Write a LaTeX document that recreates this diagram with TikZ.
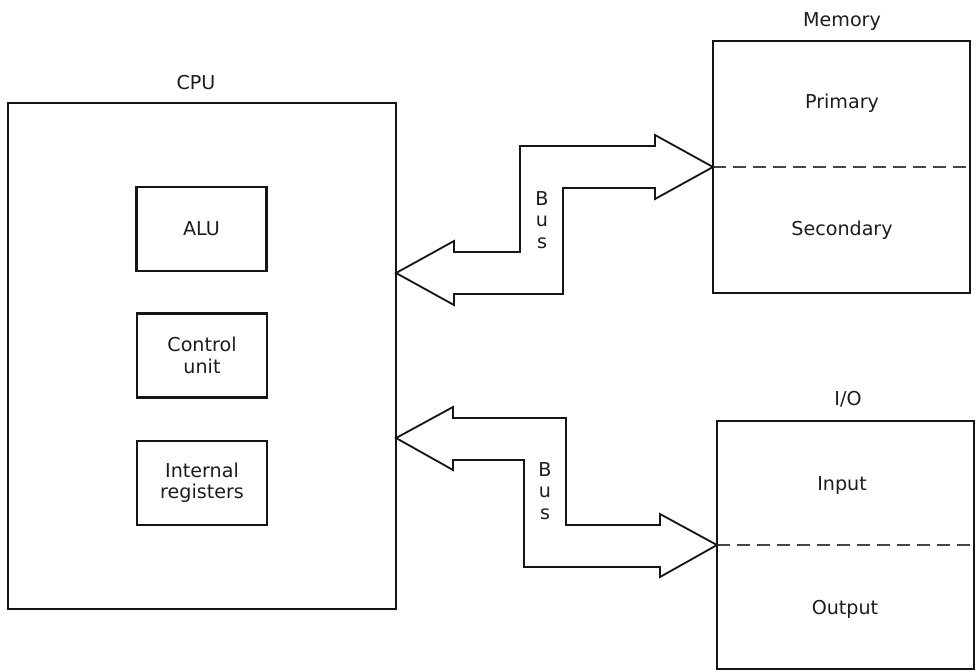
\documentclass[tikz,border=0pt]{standalone}
\usepackage{fontspec}
\setmainfont{DejaVu Sans}
\newcommand\diagfont{\fontsize{13.6}{15.2}\selectfont}
\definecolor{inkline}{HTML}{161616}
\definecolor{inktext}{HTML}{1C1C1C}
\tikzset{
  frame/.style={draw=inkline, line width=1.9pt, inner sep=0pt, outer sep=0pt,
    align=center, font=\diagfont, text=inktext},
  caption/.style={font=\diagfont, text=inktext, inner sep=0pt, anchor=base},
  divider/.style={draw=inkline!80, line width=1pt, dash pattern=on 9.2pt off 5pt},
  busshape/.style={draw=inkline, line width=1.3pt, line join=miter},
  buslabel/.style={font=\diagfont, text=inktext, align=center, inner sep=0pt}
}
\begin{document}
\begin{tikzpicture}[x=0.025cm, y=-0.025cm]
  \useasboundingbox (0,0) rectangle (978,671);

  % CPU and its parts
  \node[frame, minimum width=9.7cm, minimum height=12.65cm] (cpu) at (202,356) {};
  \node[caption] (cpulabel) at (196,89.5) {CPU};
  \node[frame, minimum width=3.25cm, minimum height=2.1cm] (alu) at (201.5,229) {ALU};
  \node[frame, minimum width=3.25cm, minimum height=2.1cm] (ctrl) at (202,355.5) {Control\\unit};
  \node[frame, minimum width=3.25cm, minimum height=2.1cm] (regs) at (202,483) {Internal\\registers};

  % Memory
  \node[frame, minimum width=6.425cm, minimum height=6.3cm] (mem) at (841.5,167) {};
  \node[caption] (memlabel) at (842,26) {Memory};
  \draw[divider] (mem.west) -- (mem.east);
  \node[caption] (primary) at (842,108) {Primary};
  \node[caption] (secondary) at (842,235) {Secondary};

  % I/O
  \node[frame, minimum width=6.425cm, minimum height=6.2cm] (io) at (845.5,545) {};
  \node[caption] (iolabel) at (848,405) {I/O};
  \draw[divider] (io.west) -- (io.east);
  \node[caption] (input) at (842,490) {Input};
  \node[caption] (output) at (845,614) {Output};

  % Bus between CPU and memory
  \coordinate (cpumemtip) at (cpu.east |- 0,273);
  \draw[busshape] (mem.west) -- (655,135) -- (655,146) -- (520,146) -- (520,252)
    -- (454,252) -- (454,241) -- (cpumemtip) -- (454,305) -- (454,294)
    -- (563,294) -- (563,188) -- (655,188) -- (655,199) -- cycle;
  \node[buslabel] (membus) at (542,220) {B\\u\\s};

  % Bus between CPU and I/O
  \coordinate (cpuiotip) at (cpu.east |- 0,438);
  \draw[busshape] (io.west) -- (660,577) -- (660,567) -- (524,567) -- (524,460)
    -- (453,460) -- (453,470) -- (cpuiotip) -- (453,407) -- (453,418)
    -- (566,418) -- (566,525) -- (660,525) -- (660,514) -- cycle;
  \node[buslabel] (iobus) at (545,491) {B\\u\\s};
\end{tikzpicture}
\end{document}
